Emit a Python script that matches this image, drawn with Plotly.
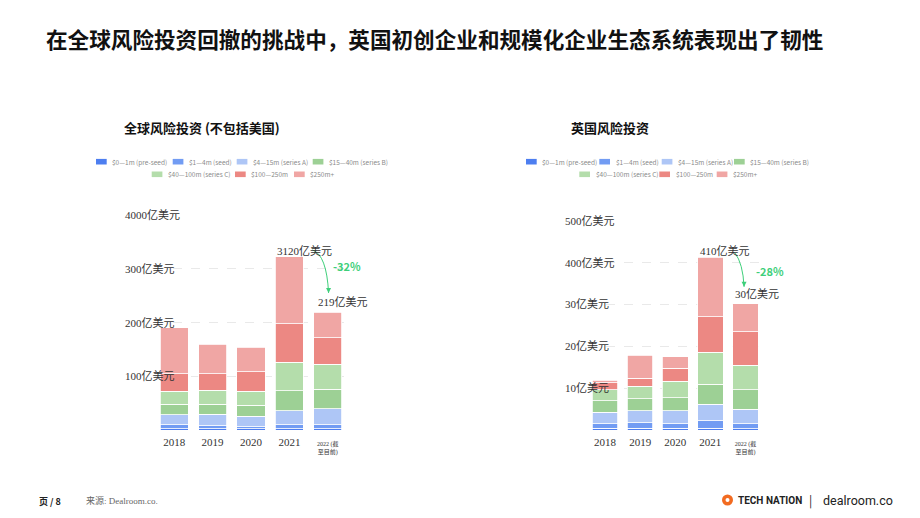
import plotly.graph_objects as go

# ---------------- data ----------------
years = [0, 1, 2, 3, 4]
year_labels = ["<span style='font-size:11px'>2018</span>",
               "<span style='font-size:11px'>2019</span>",
               "<span style='font-size:11px'>2020</span>",
               "<span style='font-size:11px'>2021</span>",
               "2022 (截<br>至目前)"]

series_names = ["$0—1m (pre-seed)", "$1—4m (seed)", "$4—15m (series A)",
                "$15—40m (series B)", "$40—100m (series C)", "$100—250m", "$250m+"]
series_colors = ["#4d7ef0", "#729cf3", "#aec6f6", "#9dd095", "#b4ddab", "#ec8883", "#f0a6a4"]

# Global VC (excluding US)
g_preseed = [2, 2, 2, 2, 2]
g_seed = [7.4, 6, 4.5, 7.4, 7.4]
g_a = [18.6, 21, 19.5, 26.2, 30.6]
g_b = [20, 19, 20, 37.4, 36]
g_c = [24.5, 26, 26, 52.6, 46]
g_d = [32.5, 31, 36, 72.4, 50]
g_e = [85, 55, 46, 124, 47]

# UK VC
u_preseed = [0.4, 0.4, 0.4, 0.4, 0.3]
u_seed = [1.1, 1.3, 1.1, 1.8, 1.2]
u_a = [2.7, 2.9, 3.1, 3.9, 3.4]
u_b = [2.8, 2.9, 3.1, 4.8, 4.7]
u_c = [2.6, 3.0, 4.0, 7.7, 5.9]
u_d = [1.7, 1.9, 3.1, 8.4, 8.0]
u_e = [0.6, 5.5, 2.7, 14.3, 6.7]

g_tickvals = [0, 100, 200, 300, 400]
g_ticktext = ["", "100亿美元", "200亿美元", "300亿美元", "4000亿美元"]
u_tickvals = [0, 10, 20, 30, 40, 50]
u_ticktext = ["", "10亿美元", "20亿美元", "30亿美元", "400亿美元", "500亿美元"]

g_total_labels = ["3120亿美元", "219亿美元"]
u_total_labels = ["410亿美元", "30亿美元"]
g_change = "-32%"
u_change = "-28%"

title = "在全球风险投资回撤的挑战中，英国初创企业和规模化企业生态系统表现出了韧性"
g_subtitle = "全球风险投资 (不包括美国)"
u_subtitle = "英国风险投资"

# ---------------- figure ----------------
W, H = 920, 518
SERIF = "Liberation Serif, Noto Sans CJK SC"
SANS = "Noto Sans CJK SC, Noto Sans"
GREEN = "#3ecf7a"

def px(x):
    return x / W

def py(y):
    return 1 - y / H

fig = go.Figure()

g_series = [g_preseed, g_seed, g_a, g_b, g_c, g_d, g_e]
u_series = [u_preseed, u_seed, u_a, u_b, u_c, u_d, u_e]

for name, color, vals in zip(series_names, series_colors, g_series):
    fig.add_bar(x=years, y=vals, name=name, marker=dict(color=color, line=dict(color="white", width=0.8)),
                xaxis="x", yaxis="y", showlegend=False)
for name, color, vals in zip(series_names, series_colors, u_series):
    fig.add_bar(x=years, y=vals, name=name, marker=dict(color=color, line=dict(color="white", width=0.8)),
                xaxis="x2", yaxis="y2", showlegend=False)

g_tot = [sum(v) for v in zip(*g_series)]
u_tot = [sum(v) for v in zip(*u_series)]

axis_x = dict(range=[-0.5, 4.5], tickvals=years, ticktext=year_labels, showgrid=False,
              zeroline=False, showline=False, ticks="", ticklabelstandoff=9,
              tickfont=dict(family=SERIF, size=6, color="#333"), fixedrange=True)
axis_y = dict(showgrid=True, gridcolor="#e9e9e9", griddash="dash", gridwidth=1,
              zeroline=False, showline=False, showticklabels=False, ticks="")

y_bottom = py(430)
fig.update_layout(
    width=W, height=H, margin=dict(l=0, r=0, t=0, b=0),
    paper_bgcolor="white", plot_bgcolor="white",
    barmode="stack", bargap=0.27,
    xaxis=dict(domain=[px(155), px(347)], anchor="y", **axis_x),
    yaxis=dict(domain=[y_bottom, py(215)], range=[0, 400], tickvals=g_tickvals, anchor="x", **axis_y),
    xaxis2=dict(domain=[px(587.5), px(763)], anchor="y2", **axis_x),
    yaxis2=dict(domain=[y_bottom, py(220.7)], range=[0, 50], tickvals=u_tickvals, anchor="x2", **axis_y),
    font=dict(family=SANS),
)

ann = []
# y tick labels (left-aligned, drawn over the plot)
for v, t in zip(g_tickvals, g_ticktext):
    if t:
        ann.append(dict(x=px(123), xref="paper", y=v, yref="y", text=t, showarrow=False,
                        xanchor="left", yanchor="middle", font=dict(family=SERIF, size=11, color="#333")))
for v, t in zip(u_tickvals, u_ticktext):
    if t:
        ann.append(dict(x=px(563), xref="paper", y=v, yref="y2", text=t, showarrow=False,
                        xanchor="left", yanchor="middle", font=dict(family=SERIF, size=11, color="#333")))

# total labels
half = (1 - 0.27) / 2
ann.append(dict(x=3 - half, y=g_tot[3], xref="x", yref="y", text=g_total_labels[0], showarrow=False,
                xanchor="left", yanchor="bottom", yshift=-2, font=dict(family=SERIF, size=11, color="#333")))
ann.append(dict(x=4 - half, y=g_tot[4], xref="x", yref="y", text=g_total_labels[1], showarrow=False,
                xanchor="left", yanchor="bottom", yshift=2, xshift=2, font=dict(family=SERIF, size=11, color="#333")))
ann.append(dict(x=3 - half, y=u_tot[3], xref="x2", yref="y2", text=u_total_labels[0], showarrow=False,
                xanchor="left", yanchor="bottom", yshift=-2, font=dict(family=SERIF, size=11, color="#333")))
ann.append(dict(x=4 - half, y=u_tot[4], xref="x2", yref="y2", text=u_total_labels[1], showarrow=False,
                xanchor="left", yanchor="bottom", yshift=2, font=dict(family=SERIF, size=11, color="#333")))

# change labels
ann.append(dict(x=4.08, y=g_tot[3] - 17, xref="x", yref="y", text="<b>%s</b>" % g_change, showarrow=False,
                xanchor="left", yanchor="middle", font=dict(family=SANS, size=11, color=GREEN)))
ann.append(dict(x=4.25, y=u_tot[3] - 3.3, xref="x2", yref="y2", text="<b>%s</b>" % u_change, showarrow=False,
                xanchor="left", yanchor="middle", font=dict(family=SANS, size=11, color=GREEN)))

# curved arrows (path + head)
shapes = []
g_s = (3.60, g_tot[3] + 13)
g_e_ = (4.02, g_tot[4] + 36)
shapes.append(dict(type="path", xref="x", yref="y",
                   path="M %f,%f Q %f,%f %f,%f" % (g_s[0], g_s[1], 3.97, g_tot[3] + 4, g_e_[0], g_e_[1]),
                   line=dict(color=GREEN, width=1)))
ann.append(dict(x=g_e_[0], y=g_e_[1], xref="x", yref="y", ax=0, ay=-6, text="", showarrow=True,
                arrowhead=2, arrowsize=1, arrowwidth=1, arrowcolor=GREEN))
u_s = (3.70, u_tot[3] + 1.0)
u_e_ = (3.96, u_tot[4] + 4.0)
shapes.append(dict(type="path", xref="x2", yref="y2",
                   path="M %f,%f Q %f,%f %f,%f" % (u_s[0], u_s[1], 3.93, u_tot[3] - 1.5, u_e_[0], u_e_[1]),
                   line=dict(color=GREEN, width=1)))
ann.append(dict(x=u_e_[0], y=u_e_[1], xref="x2", yref="y2", ax=0, ay=-6, text="", showarrow=True,
                arrowhead=2, arrowsize=1, arrowwidth=1, arrowcolor=GREEN))

# custom compact legends
legend_rows = {
    "left": [(161.7, [96, 172.7, 236.7, 312.7], [0, 1, 2, 3]),
             (174.3, [151.7, 235, 294], [4, 5, 6])],
    "right": [(161.7, [526, 599.3, 661.7, 734], [0, 1, 2, 3]),
              (174.3, [579.3, 659.3, 716.7], [4, 5, 6])],
}
for side, rows in legend_rows.items():
    for yc, xs, idxs in rows:
        for x0, i in zip(xs, idxs):
            shapes.append(dict(type="rect", xref="paper", yref="paper",
                               x0=px(x0), x1=px(x0 + 10.7), y0=py(yc + 2.8), y1=py(yc - 2.8),
                               fillcolor=series_colors[i], line=dict(width=0)))
            ann.append(dict(x=px(x0 + 14.3), y=py(yc), xref="paper", yref="paper",
                            text=series_names[i], showarrow=False, xanchor="left", yanchor="middle",
                            font=dict(family=SANS, size=6.5, color="#8a8a8a")))

# titles
ann.append(dict(x=px(44), y=py(39), xref="paper", yref="paper", text="<b>%s</b>" % title,
                showarrow=False, xanchor="left", yanchor="middle",
                font=dict(family=SANS, size=21.6, color="#111")))
ann.append(dict(x=px(122), y=py(128), xref="paper", yref="paper", text="<b>%s</b>" % g_subtitle,
                showarrow=False, xanchor="left", yanchor="middle",
                font=dict(family=SANS, size=13, color="#111")))
ann.append(dict(x=px(569), y=py(128), xref="paper", yref="paper", text="<b>%s</b>" % u_subtitle,
                showarrow=False, xanchor="left", yanchor="middle",
                font=dict(family=SANS, size=13, color="#111")))

# footer
ann.append(dict(x=px(37), y=py(501), xref="paper", yref="paper", text="<b>页 / 8</b>",
                showarrow=False, xanchor="left", yanchor="middle",
                font=dict(family=SANS, size=9, color="#222")))
ann.append(dict(x=px(84), y=py(501), xref="paper", yref="paper", text="来源: Dealroom.co.",
                showarrow=False, xanchor="left", yanchor="middle",
                font=dict(family=SERIF, size=9, color="#666")))
shapes.append(dict(type="circle", xref="paper", yref="paper",
                   x0=px(722), x1=px(733), y0=py(505.5), y1=py(494.5),
                   fillcolor="#f26b21", line=dict(width=0)))
shapes.append(dict(type="circle", xref="paper", yref="paper",
                   x0=px(725.5), x1=px(729.5), y0=py(502), y1=py(498),
                   fillcolor="white", line=dict(width=0)))
ann.append(dict(x=px(736), y=py(500), xref="paper", yref="paper", text="<b>TECH NATION</b>",
                showarrow=False, xanchor="left", yanchor="middle",
                font=dict(family="Liberation Sans Narrow, Roboto", size=10, color="#222")))
ann.append(dict(x=px(810), y=py(500), xref="paper", yref="paper", text="|",
                showarrow=False, xanchor="center", yanchor="middle",
                font=dict(family=SANS, size=12, color="#222")))
ann.append(dict(x=px(821), y=py(500), xref="paper", yref="paper", text="dealroom.co",
                showarrow=False, xanchor="left", yanchor="middle",
                font=dict(family="Roboto, Noto Sans", size=12.5, color="#222")))

fig.update_layout(annotations=ann, shapes=shapes)
fig.write_html("out.html")
